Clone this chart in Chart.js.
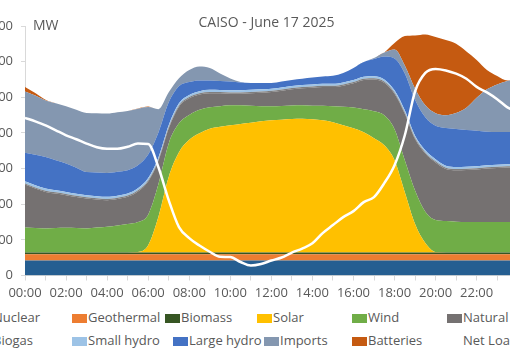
<!DOCTYPE html>
<html>
<head>
<meta charset="utf-8">
<script src="https://cdn.jsdelivr.net/npm/chart.js@4.4.1/dist/chart.umd.min.js"></script>
<style>
  body { margin: 0; width: 510px; height: 351px; overflow: hidden; background: #fff; position: relative; font-family: 'Open Sans', sans-serif; }
  #wrap { position: absolute; left: -20px; top: 0; width: 560px; height: 300px; }
  .item { position: absolute; height: 18px; line-height: 18px; font-size: 13px; color: #595959; white-space: nowrap; }
  .key { display: inline-block; width: 15px; height: 9px; margin-right: 1px; vertical-align: -1px; }
</style>
</head>
<body>
<div id="wrap"><canvas id="usageChart" width="560" height="300"></canvas></div>
<div id="legend"></div>
<script>
// time of day (every 30 min, last sample 23:55)
const times = ['00:00','00:30','01:00','01:30','02:00','02:30','03:00','03:30','04:00','04:30',
  '05:00','05:30','06:00','06:30','07:00','07:30','08:00','08:30','09:00','09:30',
  '10:00','10:30','11:00','11:30','12:00','12:30','13:00','13:30','14:00','14:30',
  '15:00','15:30','16:00','16:30','17:00','17:30','18:00','18:30','19:00','19:30',
  '20:00','20:30','21:00','21:30','22:00','22:30','23:00','23:30','23:55'];

// MW
const nuclear = [2100,2100,2100,2100,2100,2100,2100,2100,2100,2100,2100,2100,2100,2100,2100,2100,2100,2100,2100,2100,
  2100,2100,2100,2100,2100,2100,2100,2100,2100,2100,2100,2100,2100,2100,2100,2100,2100,2100,2100,2100,
  2100,2100,2100,2100,2100,2100,2100,2100,2100];
const geothermal = [880,880,880,880,880,880,880,880,880,880,880,880,880,880,880,880,880,880,880,880,
  880,880,880,880,880,880,880,880,880,880,880,880,880,880,880,880,880,880,880,880,
  880,880,880,880,880,880,880,880,880];
const biomass = [250,250,250,250,250,250,250,250,250,250,250,250,250,250,250,250,250,250,250,250,
  250,250,250,250,250,250,250,250,250,250,250,250,250,250,250,250,250,250,250,250,
  250,250,250,250,250,250,250,250,250];
const solar = [0,0,0,0,0,0,0,0,0,0,0,60,1000,5000,10600,14060,15800,16720,17350,17630,
  17840,18020,18190,18400,18540,18630,18730,18750,18680,18540,18260,17840,17420,16860,16020,15040,12940,8460,3980,1320,
  60,0,0,0,0,0,0,0,0];
const wind = [3510,3440,3370,3420,3460,3420,3370,3490,3600,3770,3980,4200,4300,4600,4700,4060,3500,3290,3010,2870,
  2800,2620,2380,2100,1960,1930,1900,1890,1890,2030,2240,2590,2900,3220,3780,4200,4340,4480,4700,4400,
  4480,4400,4300,4260,4260,4260,4260,4260,4260];
const naturalGas = [6010,5520,5130,4850,4570,4360,4190,3940,3730,3730,3830,4290,4670,3250,2090,2330,2330,2150,1980,1830,
  1630,1630,1770,1910,2010,2120,2260,2400,2540,2640,2710,2960,3420,4110,4460,4570,4990,6530,7230,8150,
  8070,7300,7230,7300,7370,7510,7580,7650,7650];
const biogas = [170,170,170,170,170,170,170,170,170,170,170,170,170,170,170,170,170,170,170,170,
  170,170,170,170,170,170,170,170,170,170,170,170,170,170,170,170,170,170,170,170,
  170,170,170,170,170,170,170,170,170];
const smallHydro = [300,300,300,300,300,300,300,300,300,300,300,300,300,300,300,300,300,300,300,300,
  300,300,300,300,300,300,300,300,300,300,300,300,300,300,300,300,300,300,300,300,
  300,300,300,300,300,300,300,300,300];
const largeHydro = [3990,4270,4420,4200,3980,3640,3260,3330,3360,3360,3260,3220,3300,3500,3200,2400,1820,1510,1330,1270,
  1260,1120,980,910,810,840,840,870,950,1020,1120,1330,1680,2070,2420,3220,4480,5180,5040,4620,
  4690,5290,5320,5140,4970,4690,4590,4520,4520];
const imports = [8610,8330,7940,7980,8020,8120,8260,8290,8320,8330,8300,7910,6650,3280,1400,1120,1680,1960,1750,1050,
  420,70,0,0,0,0,0,0,0,0,0,0,0,0,140,560,1260,1100,1540,1680,
  1750,1780,2230,3120,4620,5950,6680,7140,7400];
const batteries = [630,350,100,0,0,0,0,0,0,0,0,60,100,0,0,0,0,0,0,0,
  0,0,0,0,0,0,0,0,0,0,0,0,0,0,0,0,910,4130,7490,9940,
  10710,10570,9730,7910,5320,2730,1190,100,0];
const netLoad = [22120,21630,21070,20370,19670,19110,18510,17990,17780,17780,18060,18510,18450,15190,10570,6790,5250,4200,3330,2630,
  2590,1890,1400,1610,2100,2520,3220,3780,4510,5950,7070,8190,9030,10290,10990,12950,15470,19670,25830,28420,
  28980,28770,28310,27610,26460,25690,24740,23590,23030];

const Y_MAX = 35000;
const Y_STEP = 5000;
const X_MAX = 23 + 55 / 60;

const series = [
  { label: 'Nuclear',     data: nuclear,    color: '#255E91' },
  { label: 'Geothermal',  data: geothermal, color: '#ED7D31' },
  { label: 'Biomass',     data: biomass,    color: '#375623' },
  { label: 'Solar',       data: solar,      color: '#FFC000' },
  { label: 'Wind',        data: wind,       color: '#70AD47' },
  { label: 'Natural Gas', data: naturalGas, color: '#757171' },
  { label: 'Biogas',      data: biogas,     color: '#7F7F7F' },
  { label: 'Small hydro', data: smallHydro, color: '#9DC3E6' },
  { label: 'Large hydro', data: largeHydro, color: '#4472C4' },
  { label: 'Imports',     data: imports,    color: '#8497B0' },
  { label: 'Batteries',   data: batteries,  color: '#C55A11' }
];

function toHours(t) {
  const [h, m] = t.split(':').map(Number);
  return h + m / 60;
}
const xs = times.map(toHours);
const pts = arr => arr.map((v, i) => ({ x: xs[i], y: v }));

// stacked areas: first one fills to the axis, the rest to the series below
const datasets = series.map((s, i) => ({
  label: s.label,
  data: pts(s.data),
  backgroundColor: s.color,
  borderColor: s.color,
  borderWidth: 0,
  pointRadius: 0,
  fill: i === 0 ? 'origin' : '-1',
  stack: 'gen',
  cubicInterpolationMode: 'monotone'
}));
datasets.push({
  label: 'Net Load',
  data: pts(netLoad),
  borderColor: '#FFFFFF',
  backgroundColor: '#FFFFFF',
  borderWidth: 2.5,
  pointRadius: 0,
  fill: false,
  stack: 'net',
  order: -1,
  cubicInterpolationMode: 'monotone'
});

const textColor = '#595959';
const axisColor = '#D9D9D9';
const font = { family: "'Open Sans', sans-serif", size: 13 };

// title and unit label
const labelsPlugin = {
  id: 'labels',
  afterDraw(chart) {
    const { ctx, chartArea } = chart;
    ctx.save();
    ctx.fillStyle = textColor;
    ctx.textBaseline = 'middle';
    ctx.font = "14px 'Open Sans', sans-serif";
    ctx.textAlign = 'center';
    ctx.fillText('CAISO - June 17 2025', (chartArea.left + chartArea.right) / 2 - 4, chartArea.top - 3);
    ctx.textAlign = 'left';
    ctx.fillText('MW', chartArea.left + 8, chartArea.top);
    ctx.restore();
  }
};

const chart = new Chart(document.getElementById('usageChart'), {
  type: 'line',
  data: { datasets },
  options: {
    responsive: false,
    animation: false,
    devicePixelRatio: 1,
    layout: { padding: { top: 26, right: 24, bottom: 0, left: 0 } },
    plugins: { legend: { display: false }, tooltip: { enabled: false } },
    scales: {
      x: {
        type: 'linear',
        min: 0,
        max: X_MAX,
        afterFit: s => { s.height = 24.5; },
        grid: { drawOnChartArea: false, tickLength: 5, color: axisColor },
        border: { color: axisColor },
        ticks: {
          stepSize: 1,
          includeBounds: false,
          maxRotation: 0,
          autoSkip: false,
          padding: 5,
          color: textColor,
          font,
          callback: v => (v % 2 === 0 ? String(v).padStart(2, '0') + ':00' : '')
        }
      },
      y: {
        stacked: true,
        min: 0,
        max: Y_MAX,
        afterFit: s => { s.width = 45; },
        grid: { drawOnChartArea: false, tickLength: 4, color: axisColor },
        border: { color: axisColor },
        ticks: { stepSize: Y_STEP, padding: 8, color: textColor, font }
      }
    }
  },
  plugins: [labelsPlugin]
});

// legend laid out like the spreadsheet's: two rows of six
const legendRows = [
  { top: 308, lefts: [-23, 72, 165, 257, 352, 447] },
  { top: 331, lefts: [-23, 72, 173, 264, 352, 447] }
];
const legendEl = document.getElementById('legend');
chart.data.datasets.forEach((ds, i) => {
  const row = legendRows[Math.floor(i / 6)];
  const item = document.createElement('div');
  item.className = 'item';
  item.style.left = row.lefts[i % 6] + 'px';
  item.style.top = row.top + 'px';
  const key = document.createElement('span');
  key.className = 'key';
  key.style.background = ds.fill === false ? ds.borderColor : ds.backgroundColor;
  item.appendChild(key);
  item.appendChild(document.createTextNode(ds.label));
  legendEl.appendChild(item);
});
</script>
</body>
</html>
